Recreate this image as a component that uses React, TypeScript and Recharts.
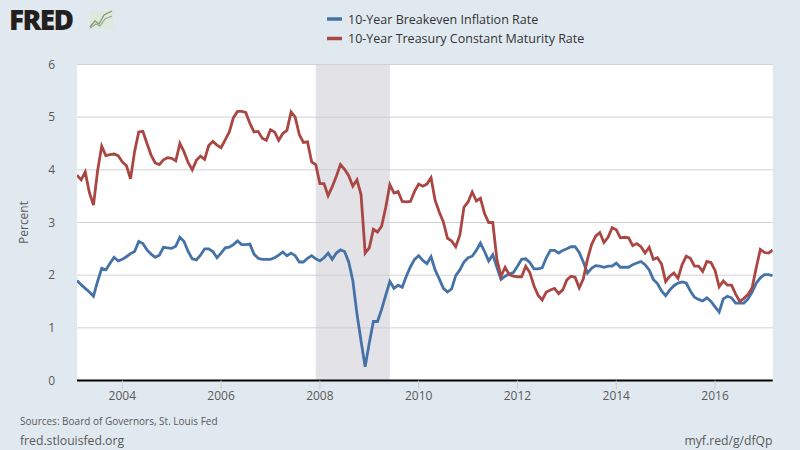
import React from 'react';
import { LineChart, Line, XAxis, YAxis, CartesianGrid, ReferenceArea } from 'recharts';

const startYear = 2003;
const startMonth = 2; // February 2003, monthly observations

const breakeven = [
  1.90, 1.82, 1.75, 1.68, 1.60, 1.88, 2.13, 2.10, 2.22, 2.34, 2.27,
  2.30, 2.35, 2.41, 2.45, 2.64, 2.60, 2.48, 2.40, 2.34, 2.38, 2.53, 2.52,
  2.51, 2.55, 2.72, 2.64, 2.45, 2.31, 2.29, 2.38, 2.50, 2.50, 2.45, 2.33,
  2.42, 2.52, 2.53, 2.58, 2.65, 2.58, 2.58, 2.59, 2.40, 2.32, 2.30, 2.30,
  2.30, 2.33, 2.38, 2.44, 2.37, 2.42, 2.37, 2.25, 2.25, 2.32, 2.37, 2.31,
  2.27, 2.33, 2.42, 2.30, 2.42, 2.48, 2.45, 2.25, 1.90, 1.27, 0.75, 0.26,
  0.71, 1.12, 1.12, 1.35, 1.62, 1.88, 1.75, 1.81, 1.77, 1.98, 2.16, 2.30,
  2.37, 2.28, 2.22, 2.35, 2.10, 1.93, 1.75, 1.68, 1.74, 1.99, 2.10, 2.25,
  2.33, 2.36, 2.47, 2.61, 2.45, 2.27, 2.39, 2.15, 1.92, 1.98, 2.02, 2.05,
  2.17, 2.30, 2.31, 2.24, 2.12, 2.12, 2.14, 2.33, 2.47, 2.47, 2.42, 2.47,
  2.50, 2.54, 2.54, 2.43, 2.25, 2.04, 2.13, 2.18, 2.17, 2.15, 2.17, 2.17,
  2.23, 2.15, 2.15, 2.15, 2.20, 2.23, 2.26, 2.20, 2.10, 1.92, 1.84, 1.70,
  1.61, 1.72, 1.80, 1.85, 1.87, 1.85, 1.70, 1.58, 1.54, 1.51, 1.57, 1.50,
  1.40, 1.30, 1.55, 1.60, 1.57, 1.47, 1.47, 1.47, 1.55, 1.68, 1.85, 1.95,
  2.01, 2.01, 1.99,
];

const treasury = [
  3.90, 3.81, 3.96, 3.57, 3.33, 3.98, 4.45, 4.27, 4.29, 4.30, 4.27,
  4.15, 4.08, 3.83, 4.35, 4.72, 4.73, 4.50, 4.28, 4.13, 4.10, 4.19, 4.23,
  4.22, 4.17, 4.50, 4.34, 4.14, 4.00, 4.18, 4.26, 4.20, 4.46, 4.54, 4.47,
  4.42, 4.57, 4.72, 4.99, 5.11, 5.11, 5.09, 4.88, 4.72, 4.73, 4.60, 4.56,
  4.76, 4.72, 4.56, 4.69, 4.75, 5.10, 5.00, 4.67, 4.52, 4.53, 4.15, 4.10,
  3.74, 3.74, 3.51, 3.68, 3.88, 4.10, 4.01, 3.89, 3.69, 3.81, 3.53, 2.42,
  2.52, 2.87, 2.82, 2.93, 3.29, 3.72, 3.56, 3.59, 3.40, 3.39, 3.40, 3.59,
  3.73, 3.69, 3.73, 3.85, 3.42, 3.20, 3.01, 2.70, 2.65, 2.54, 2.76, 3.29,
  3.39, 3.58, 3.41, 3.46, 3.17, 3.00, 3.00, 2.30, 1.98, 2.15, 2.01, 1.98,
  1.97, 1.97, 2.17, 2.05, 1.80, 1.62, 1.53, 1.68, 1.72, 1.75, 1.65, 1.72,
  1.91, 1.98, 1.96, 1.76, 1.93, 2.30, 2.58, 2.74, 2.81, 2.62, 2.72, 2.90,
  2.86, 2.71, 2.72, 2.71, 2.56, 2.60, 2.54, 2.42, 2.53, 2.30, 2.33, 2.21,
  1.88, 1.98, 2.04, 1.94, 2.20, 2.36, 2.32, 2.17, 2.17, 2.07, 2.26, 2.24,
  2.09, 1.78, 1.89, 1.81, 1.81, 1.64, 1.50, 1.56, 1.63, 1.76, 2.14, 2.49,
  2.43, 2.42, 2.48,
];

const xTicks = [2004, 2006, 2008, 2010, 2012, 2014, 2016];
const yTicks = [0, 1, 2, 3, 4, 5, 6];
const recession = { start: 2007 + 11 / 12, end: 2009 + 5 / 12 };

const seriesNames = {
  breakeven: '10-Year Breakeven Inflation Rate',
  treasury: '10-Year Treasury Constant Maturity Rate',
};

const BLUE = '#4572a7';
const RED = '#aa4643';
const TEXT = '#595959';
const FONT = '"Open Sans", Roboto, sans-serif';

const data = breakeven.map((b, i) => {
  const m = startMonth - 1 + i;
  const year = startYear + Math.floor(m / 12);
  const month = (m % 12) + 1;
  return {
    date: `${year}-${String(month).padStart(2, '0')}`,
    t: year + (month - 1) / 12,
    breakeven: b,
    treasury: treasury[i],
  };
});

const tMin = data[0].t;
const tMax = data[data.length - 1].t;

export default function App() {
  return (
    <div
      style={{
        position: 'fixed',
        left: 0,
        top: 0,
        width: 800,
        height: 450,
        background: '#e1e9f0',
        fontFamily: FONT,
        overflow: 'hidden',
      }}
    >
      <div style={{ position: 'absolute', left: 0, top: 0 }}>
        <LineChart
          width={800}
          height={450}
          data={data}
          margin={{ top: 64.5, right: 27.3, bottom: 39.5, left: 0 }}
        >
          <CartesianGrid
            horizontal
            vertical={false}
            stroke="#d2d2d2"
            strokeWidth={1}
            fill="#ffffff"
            fillOpacity={1}
          />
          <ReferenceArea
            x1={recession.start}
            x2={recession.end}
            fill="#c8c8cf"
            fillOpacity={0.5}
            stroke="none"
            ifOverflow="hidden"
          />
          <XAxis
            dataKey="t"
            type="number"
            domain={[tMin, tMax]}
            allowDataOverflow
            ticks={xTicks}
            tickFormatter={(v) => String(v)}
            height={30}
            tickSize={9}
            tickMargin={2}
            tickLine={{ stroke: '#cccccc' }}
            axisLine={{ stroke: '#000000', strokeWidth: 2 }}
            tick={{ fill: TEXT, fontSize: 12, fontFamily: FONT }}
          />
          <YAxis
            type="number"
            domain={[0, 6]}
            ticks={yTicks}
            width={77}
            tickSize={0}
            tickMargin={22}
            tickLine={false}
            axisLine={false}
            tick={{ fill: TEXT, fontSize: 12, fontFamily: FONT }}
          />
          <Line
            type="linear"
            dataKey="breakeven"
            name={seriesNames.breakeven}
            stroke={BLUE}
            strokeWidth={2.8}
            dot={false}
            isAnimationActive={false}
          />
          <Line
            type="linear"
            dataKey="treasury"
            name={seriesNames.treasury}
            stroke={RED}
            strokeWidth={2.8}
            dot={false}
            isAnimationActive={false}
          />
        </LineChart>
      </div>
      <svg
        width={800}
        height={450}
        style={{ position: 'absolute', left: 0, top: 0, pointerEvents: 'none' }}
      >
        {/* FRED logo */}
        <text
          x={9}
          y={30}
          fontSize={28}
          fontWeight={800}
          fill="#231f20"
          fontFamily={FONT}
          letterSpacing={-1.6}
        >
          FRED
        </text>
        <g>
          <rect x={89} y={11} width={24} height={18} fill="#dfe8dc" />
          <polyline points="90,27 95,21 99,24 104,15 112,11" fill="none" stroke="#7aa36a" strokeWidth={1.3} />
          <polyline points="90,28 96,24 100,26 105,19 112,16" fill="none" stroke="#9aa39a" strokeWidth={1.1} />
        </g>
        {/* Legend */}
        <line x1={327} x2={342} y1={19} y2={19} stroke={BLUE} strokeWidth={3.5} />
        <text x={348} y={23.5} fontSize={12.5} fill="#333333" fontFamily={FONT}>
          {seriesNames.breakeven}
        </text>
        <line x1={327} x2={342} y1={38.5} y2={38.5} stroke={RED} strokeWidth={3.5} />
        <text x={348} y={43} fontSize={12.5} fill="#333333" fontFamily={FONT}>
          {seriesNames.treasury}
        </text>
        {/* Y axis title */}
        <text
          x={0}
          y={0}
          transform="translate(27.5,222.5) rotate(-90)"
          textAnchor="middle"
          fontSize={12}
          fill={TEXT}
          fontFamily={FONT}
        >
          Percent
        </text>
        {/* Footer */}
        <text x={20} y={424.5} fontSize={10} fill={TEXT} fontFamily={FONT}>
          Sources: Board of Governors, St. Louis Fed
        </text>
        <text x={20} y={444.5} fontSize={12.2} fill={TEXT} fontFamily={FONT}>
          fred.stlouisfed.org
        </text>
        <text x={772.5} y={444.5} fontSize={12.2} fill={TEXT} fontFamily={FONT} textAnchor="end">
          myf.red/g/dfQp
        </text>
      </svg>
    </div>
  );
}
